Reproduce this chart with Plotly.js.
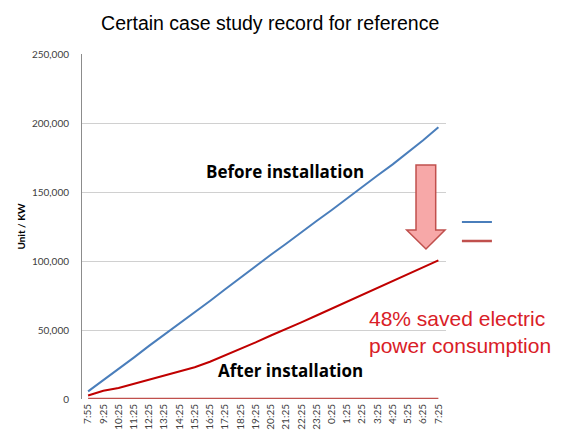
<!DOCTYPE html>
<html>
<head>
<meta charset="utf-8">
<script src="https://cdn.plot.ly/plotly-3.0.1.min.js"></script>
<style>html,body{margin:0;padding:0;background:#fff;}#chart{width:570px;height:444px;}</style>
</head>
<body>
<div id="chart"></div>
<script>
// Time-of-reading category labels
var times = ["7:55","9:25","10:25","11:25","12:25","13:25","14:25","15:25","16:25","17:25","18:25","19:25",
             "20:25","21:25","22:25","23:25","0:25","1:25","2:25","3:25","4:25","5:25","6:25","7:25"];
// Cumulative consumption before installation (Unit / KW)
var beforeValues = [5500, 13500, 21500, 30000, 38500, 46500, 54500, 63000, 71000, 79500, 88000, 96000,
                    104500, 112500, 121000, 129000, 137000, 145500, 153500, 162000, 170000, 178500, 187500, 197000];
// Cumulative consumption after installation (Unit / KW)
var afterValues = [2500, 6000, 8000, 11000, 13500, 16500, 19500, 23000, 27000, 31500, 36000, 41000,
                   46000, 50500, 55500, 60500, 65500, 70500, 75500, 80500, 85500, 90500, 95500, 100500];
// Baseline series (drawn at zero)
var baseValues = [0,0,0,0,0,0,0,0,0,0,0,0,0,0,0,0,0,0,0,0,0,0,0,0];

var traces = [
  {x: times, y: beforeValues, type: 'scatter', mode: 'lines', name: ' ',
   line: {color: '#4a7ebb', width: 2}},
  {x: times, y: baseValues, type: 'scatter', mode: 'lines', name: '  ',
   line: {color: '#c0504d', width: 2.5}},
  {x: times, y: afterValues, type: 'scatter', mode: 'lines', name: 'After', showlegend: false,
   line: {color: '#c00000', width: 2}}
];

var layout = {
  width: 570, height: 444,
  margin: {l: 82, r: 124, t: 54, b: 45, pad: 0},
  paper_bgcolor: '#ffffff', plot_bgcolor: '#ffffff',
  title: {text: 'Certain case study record for reference',
          font: {family: 'Liberation Sans, Arial, sans-serif', size: 19.5, color: '#000000'},
          x: 0.474, xanchor: 'center', y: 0.948, yanchor: 'middle', xref: 'container', yref: 'container'},
  xaxis: {type: 'category', range: [-0.4, 23.5], showgrid: false, zeroline: false,
          showline: false, ticks: '', tickangle: -90,
          tickfont: {family: 'Lato, sans-serif', size: 10, color: '#404040'},
          ticklabelstandoff: 2, automargin: false, fixedrange: true},
  yaxis: {range: [0, 250000], tickvals: [0, 50000, 100000, 150000, 200000, 250000],
          tickformat: ',d', showgrid: true, gridcolor: '#d0d0d0', gridwidth: 1,
          zeroline: false, showline: true, linecolor: '#8c8c8c', linewidth: 1, ticks: '',
          tickfont: {family: 'Lato, sans-serif', size: 10, color: '#404040'},
          ticklabelstandoff: 10, automargin: false,
          title: {text: 'Unit / KW', font: {family: 'Lato, sans-serif', size: 10, color: '#000000', weight: 'bold'}, standoff: 4}},
  showlegend: true,
  legend: {x: 1.03, xanchor: 'left', y: 0.555, yanchor: 'top', bgcolor: 'rgba(0,0,0,0)',
           font: {family: 'Lato, sans-serif', size: 10}, itemwidth: 30, tracegroupgap: 0},
  shapes: [
    {type: 'path', xref: 'paper', yref: 'paper',
     path: 'M 0.9176,0.6783 L 0.9717,0.6783 L 0.9717,0.4899 L 0.9973,0.4899 L 0.945,0.4348 L 0.892,0.4899 L 0.9176,0.4899 Z',
     fillcolor: '#f7a8a8', line: {color: '#c0504d', width: 1.5}}
  ],
  annotations: [
    {text: '<b>Before installation</b>', xref: 'paper', yref: 'paper', x: 0.5577, y: 0.658,
     xanchor: 'center', yanchor: 'middle', showarrow: false,
     font: {family: 'Open Sans, sans-serif', size: 17, color: '#000000'}},
    {text: '<b>After installation</b>', xref: 'paper', yref: 'paper', x: 0.574, y: 0.084,
     xanchor: 'center', yanchor: 'middle', showarrow: false,
     font: {family: 'Open Sans, sans-serif', size: 17, color: '#000000'}},
    {text: '48% saved electric<br>power consumption', xref: 'paper', yref: 'paper', x: 0.783, y: 0.193,
     xanchor: 'left', yanchor: 'middle', align: 'left', showarrow: false,
     font: {family: 'Liberation Sans, Arial, sans-serif', size: 21, color: '#d92027'}}
  ]
};

Plotly.newPlot('chart', traces, layout, {displayModeBar: false, staticPlot: true});
</script>
</body>
</html>
